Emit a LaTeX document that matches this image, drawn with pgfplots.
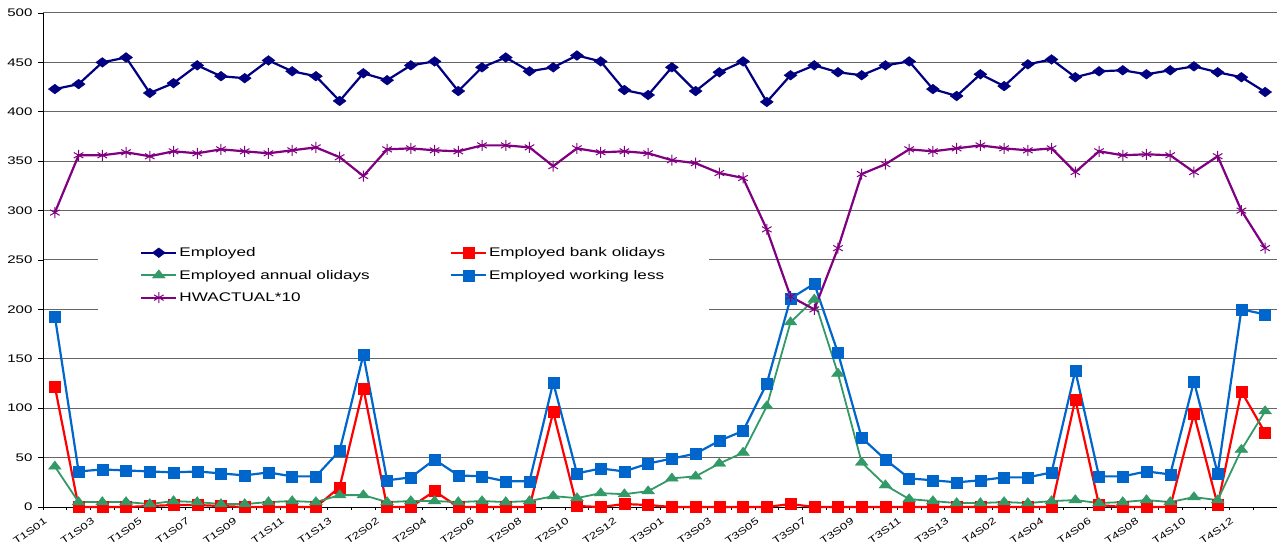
\documentclass[border=0pt]{standalone}
\usepackage{fontspec}
\setmainfont{Liberation Sans}[FakeStretch=1.37]
\usepackage{pgfplots}
\usepackage{pgfplotstable}
\pgfplotsset{compat=1.18}
\definecolor{cemp}{HTML}{000080}
\definecolor{cbank}{HTML}{FF0000}
\definecolor{cann}{HTML}{339966}
\definecolor{cless}{HTML}{0066CC}
\definecolor{chw}{HTML}{800080}
\pgfplotstableread{
i emp bank annual less hw
0 423 122 41 193 298
1 428 0 5 36 356
2 450 0 5 38 356
3 455 0 5 37 359
4 419 1 3 36 355
5 429 2 6 35 360
6 447 2 5 36 358
7 436 1 3 34 362
8 434 0 3 32 360
9 452 0 5 35 358
10 441 0 6 31 361
11 436 0 5 31 364
12 411 20 12 57 354
13 439 120 12 154 335
14 432 0 5 27 362
15 447 0 6 30 363
16 451 16 6 48 361
17 421 0 5 32 360
18 445 0 6 31 366
19 455 0 5 26 366
20 441 0 6 26 364
21 445 96 11 126 345
22 457 1 9 34 363
23 451 0 14 39 359
24 422 3 13 36 360
25 417 2 16 44 358
26 445 0 29 49 351
27 421 0 31 54 348
28 440 0 44 67 338
29 451 0 55 77 333
30 410 0 102 125 281
31 437 3 187 211 213
32 447 0 210 226 200
33 440 0 135 156 262
34 437 0 45 70 337
35 447 0 22 48 347
36 451 0 8 29 362
37 423 0 6 27 360
38 416 0 4 25 363
39 438 0 4 27 366
40 426 0 5 30 363
41 448 0 4 30 361
42 453 0 6 35 363
43 435 109 7 138 339
44 441 2 4 31 360
45 442 0 5 31 356
46 438 0 7 36 357
47 442 0 5 33 356
48 446 94 10 127 339
49 440 2 7 34 355
50 435 117 58 200 300
51 420 75 97 195 262
}\data
\begin{document}
\begin{tikzpicture}
\begin{axis}[
  scale only axis, width=1234pt, height=494pt,
  xmin=-0.5, xmax=51.5, ymin=0, ymax=500,
  axis x line=bottom, axis y line=left,
  axis line style={-, black, line width=0.8pt},
  xtick={0,2,...,50},
  xticklabels={T1S01,T1S03,T1S05,T1S07,T1S09,T1S11,T1S13,T2S02,T2S04,T2S06,T2S08,T2S10,T2S12,T3S01,T3S03,T3S05,T3S07,T3S09,T3S11,T3S13,T4S02,T4S04,T4S06,T4S08,T4S10,T4S12},
  minor xtick={-0.5,0.5,...,51.5},
  major x tick style={draw=none},
  minor tick length=3pt,
  major tick length=5pt,
  tick align=outside,
  tick style={black, line width=0.8pt},
  ytick={0,50,...,500},
  ymajorgrids, grid style={black!60, line width=1pt},
  clip=false,
  /pgf/number format/assume math mode=true,
  yticklabel style={font=\fontsize{11}{13}\selectfont, xshift=-2pt},
  xticklabel style={font=\fontsize{9.5}{11}\selectfont, inner sep=0pt, xshift=-9pt, yshift=-8pt, rotate=35, anchor=east},
  legend columns=2,
  legend cell align=left,
  legend style={at={(rel axis cs:0.0446,0.540)}, anchor=north west, draw=none, fill=white,
    inner xsep=42pt, inner ysep=5pt, row sep=8pt,
    font=\fontsize{12.5}{15}\selectfont,
    /tikz/every even column/.append style={column sep=78pt}},
  legend image code/.code={\draw[mark repeat=2,mark phase=2,#1] plot coordinates {(0pt,0pt) (17.5pt,0pt) (35pt,0pt)};},
]
\addplot[color=cemp, line width=2.2pt, mark=diamond*, mark size=6.5pt, mark options={rotate=90, line width=0.4pt}] table[x=i,y=emp]{\data};
\addlegendentry{Employed}
\addplot[color=cbank, line width=2.2pt, mark=square*, mark size=5.5pt, mark options={line width=0.4pt}] table[x=i,y=bank]{\data};
\addlegendentry{Employed bank olidays}
\addplot[color=cann, line width=1.8pt, mark=triangle*, mark size=5.5pt, mark options={xscale=1.35, line width=0.4pt}] table[x=i,y=annual]{\data};
\addlegendentry{Employed annual olidays}
\addplot[color=cless, line width=2.2pt, mark=square*, mark size=5.5pt, mark options={line width=0.4pt}] table[x=i,y=less]{\data};
\addlegendentry{Employed working less}
\addplot[color=chw, line width=2.2pt, mark=asterisk, mark size=5.5pt, mark options={line width=1pt}] table[x=i,y=hw]{\data};
\addlegendentry{HWACTUAL*10}
\end{axis}
\pgfresetboundingbox
\path ([shift={(-43pt,-38pt)}]current axis.south west) rectangle ([shift={(0pt,13pt)}]current axis.north east);
\end{tikzpicture}
\end{document}
